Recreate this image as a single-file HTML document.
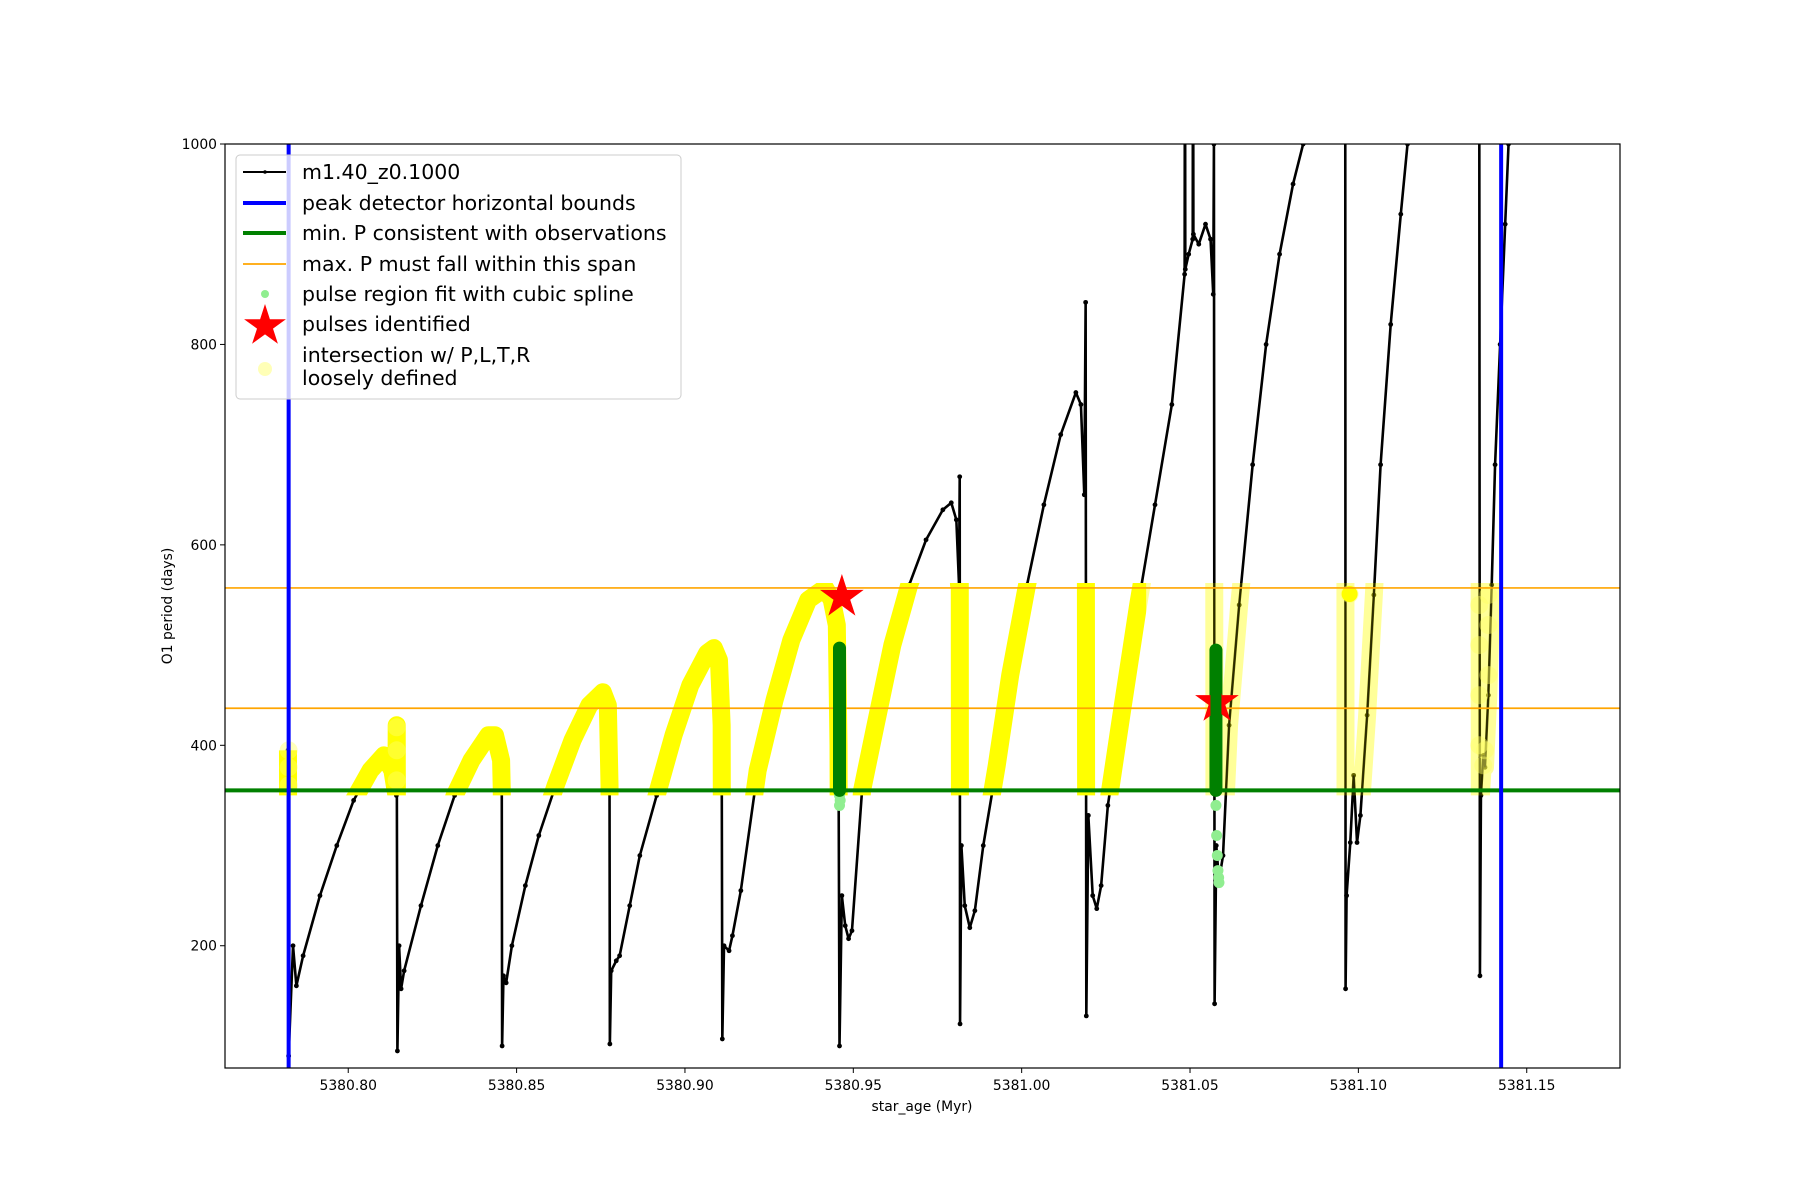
<!DOCTYPE html>
<html><head><meta charset="utf-8">
<style>
html,body{margin:0;padding:0;background:#fff;}
svg{display:block;font-family:"DejaVu Sans","Liberation Sans",sans-serif;}
</style></head>
<body>
<svg id="chart" width="1800" height="1200" viewBox="0 0 1800 1200" xmlns="http://www.w3.org/2000/svg">
<rect width="1800" height="1200" fill="#fff"/>
<defs>
<clipPath id="plotclip"><rect x="225" y="144" width="1395" height="924"/></clipPath>
<clipPath id="bandSolid"><rect id="bs" x="225" y="0" width="0" height="0"/></clipPath>
<clipPath id="bandPale"><rect id="bp" x="225" y="0" width="0" height="0"/></clipPath>
</defs>
<g id="plot" clip-path="url(#plotclip)"></g>
<g id="axes"></g>
<g id="legend"></g>
</svg>
<script>
// ---- data ----
const trackAge = [5380.7821,5380.7823,5380.7836,5380.7846,5380.7866,5380.7916,5380.7966,5380.8016,5380.8066,5380.8106,5380.8131,5380.8143,5380.8144,5380.8146,5380.8151,5380.8157,
5380.8166,5380.8216,5380.8266,5380.8316,5380.8366,5380.8416,5380.8436,5380.8454,5380.8456,5380.8457,5380.8461,5380.8469,
5380.8486,5380.8526,5380.8566,5380.8616,5380.8666,5380.8716,5380.8756,5380.8771,5380.8776,5380.8777,5380.8781,5380.8796,5380.8806,
5380.8836,5380.8866,5380.8916,5380.8966,5380.9016,5380.9066,5380.9086,5380.9101,5380.9109,5380.9111,5380.9116,5380.9131,5380.9141,
5380.9166,5380.9216,5380.9266,5380.9316,5380.9366,5380.9416,5380.9436,5380.9451,5380.9456,5380.9459,5380.9466,5380.9476,5380.9486,5380.9496,
5380.9526,5380.9566,5380.9616,5380.9666,5380.9716,5380.9766,5380.9791,5380.9806,5380.9814,5380.9816,5380.9817,5380.9821,5380.9831,5380.9846,5380.9861,
5380.9886,5380.9926,5380.9966,5381.0016,5381.0066,5381.0116,5381.0161,5381.0176,5381.0186,5381.0190,5381.0192,5381.0198,5381.0211,5381.0223,5381.0236,
5381.0256,5381.0296,5381.0346,5381.0396,5381.0446,5381.0484,5381.0485,5381.0486,5381.0496,5381.0508,5381.0509,5381.0510,5381.0526,5381.0546,5381.0561,5381.0569,5381.0571,5381.0573,5381.0578,5381.0586,5381.0598,
5381.0616,5381.0646,5381.0686,5381.0726,5381.0766,5381.0806,5381.0836,5381.0846,
5381.0961,5381.0962,5381.0965,5381.0976,5381.0986,5381.0996,5381.1006,5381.1026,5381.1046,5381.1066,5381.1096,5381.1126,5381.1146,5381.1156,
5381.1359,5381.1361,5381.1364,5381.1371,5381.1376,5381.1386,5381.1396,5381.1406,5381.1421,5381.1436,5381.1446,5381.1451];
const trackP = [395,90,200,160,190,250,300,345,375,390,375,350,420,95,200,157,
175,240,300,350,385,410,410,385,355,100,170,163,
200,260,310,360,405,440,453,440,360,102,175,185,190,
240,290,350,410,460,492,497,485,420,107,200,195,210,
255,375,445,505,545,557,545,520,400,100,250,220,207,215,
355,420,500,560,605,635,642,625,560,668,122,300,240,218,235,
300,380,470,560,640,710,752,740,650,842,130,330,250,237,260,
340,430,540,640,740,870,1200,875,890,905,1200,910,900,920,905,850,1000,142,300,265,290,
420,540,680,800,890,960,1000,1100,
1100,157,250,303,370,303,330,430,550,680,820,930,1000,1100,
1100,170,350,390,378,450,560,680,800,920,1000,1100];
const blueBounds = [5380.7823,5381.1424];
const minP = 355;
const maxPSpan = [437,557];
const fitAge = [5380.9459,5380.9459,5380.9461,5381.0577,5381.0579,5381.0581,5381.0583,5381.0585,5381.0586];
const fitP = [350,340,345,340,310,290,275,268,263];
const pulseAge = [5380.9459,5381.0577];
const pulseTop = [497,495];
const starAge = [5380.9466,5381.0580];
const starP = [548,443];
const looseAge = [5380.7823,5380.7823,5380.7823,5380.8144,5380.8144,5380.8144,5381.0974,5381.1359,5381.1359,5381.1359,5381.1359,5381.1371,5381.1376,5381.1386,5381.1386,5381.1386];
const looseP = [360,378,395,365,395,418,551,400,450,500,540,380,395,470,520,550];
const xTicks = [5380.80,5380.85,5380.90,5380.95,5381.00,5381.05,5381.10,5381.15];
const xTickLabels = ["5380.80","5380.85","5380.90","5380.95","5381.00","5381.05","5381.10","5381.15"];
const yTicks = [200,400,600,800,1000];
const yTickLabels = ["200","400","600","800","1000"];

// ---- axes functions ----
const X0=225,X1=1620,Y0=144,Y1=1068;
const xMin=5380.7634,xMax=5381.1777,yMin=78,yMax=1000;
const px=v=>X0+(v-xMin)/(xMax-xMin)*(X1-X0);
const py=v=>Y1-(v-yMin)/(yMax-yMin)*(Y1-Y0);
const NS="http://www.w3.org/2000/svg";
function mk(tag,attrs,parent){const e=document.createElementNS(NS,tag);for(const k in attrs)e.setAttribute(k,attrs[k]);parent.appendChild(e);return e;}
const plot=document.getElementById('plot'),axes=document.getElementById('axes');

const ptsStr=trackAge.map((a,i)=>px(a).toFixed(2)+','+py(trackP[i]).toFixed(2)).join(' ');
const bs=document.getElementById('bs'),bp=document.getElementById('bp');
const yb0=py(maxPSpan[1])-5,yb1=py(minP)+5;
const split=px(5381.037);
bs.setAttribute('y',yb0);bs.setAttribute('height',yb1-yb0);bs.setAttribute('width',split-225);
bp.setAttribute('x',split);bp.setAttribute('y',yb0);bp.setAttribute('height',yb1-yb0);bp.setAttribute('width',1620-split);

const track=mk('polyline',{points:ptsStr,fill:'none',stroke:'#000','stroke-width':2.6,'stroke-linejoin':'round'},plot);


const dots=mk('g',{},plot);


trackAge.forEach((a,i)=>{mk('circle',{cx:px(a),cy:py(trackP[i]),r:2.4,fill:'#000'},dots);});

const ys=mk('polyline',{points:ptsStr,fill:'none',stroke:'#ffff00','stroke-width':18,'stroke-linejoin':'round','clip-path':'url(#bandSolid)'},plot);


const yp=mk('polyline',{points:ptsStr,fill:'none',stroke:'#ffff00','stroke-opacity':0.4,'stroke-width':18,'stroke-linejoin':'round','clip-path':'url(#bandPale)'},plot);


const tb=mk('polyline',{points:ptsStr,fill:'none',stroke:'#000','stroke-opacity':0.6,'stroke-width':1.8,'clip-path':'url(#bandPale)'},plot);



looseAge.forEach((a,i)=>{const c=mk('circle',{cx:px(a),cy:py(looseP[i]),r:9,fill:'#ffff66','fill-opacity':0.45},plot);

});
mk('circle',{cx:px(looseAge[6]),cy:py(looseP[6]),r:8,fill:'#ffff00'},plot);

const gl=mk('line',{x1:X0,x2:X1,y1:py(minP),y2:py(minP),stroke:'#008000','stroke-width':4},plot);


maxPSpan.forEach(v=>{const l=mk('line',{x1:X0,x2:X1,y1:py(v),y2:py(v),stroke:'#ffa500','stroke-width':1.7},plot);

});
blueBounds.forEach(v=>{const l=mk('line',{x1:px(v),x2:px(v),y1:Y0,y2:Y1,stroke:'#0000ff','stroke-width':4},plot);

});

fitAge.forEach((a,i)=>{const c=mk('circle',{cx:px(a),cy:py(fitP[i]),r:5.5,fill:'#90ee90'},plot);

});
pulseAge.forEach((a,i)=>{const l=mk('line',{x1:px(a),x2:px(a),y1:py(minP),y2:py(pulseTop[i]),stroke:'#008000','stroke-width':13,'stroke-linecap':'round'},plot);

});

function starPts(cx,cy,R){const r=R*0.382;let s=[];for(let k=0;k<10;k++){const ang=-Math.PI/2+k*Math.PI/5;const rr=k%2?r:R;s.push((cx+rr*Math.cos(ang)).toFixed(1)+','+(cy+rr*Math.sin(ang)).toFixed(1));}return s.join(' ');}
starAge.forEach((a,i)=>{const s=mk('polygon',{points:starPts(px(a),py(starP[i]),23),fill:'#ff0000'},plot);

});
pulseAge.forEach((a,i)=>{mk('line',{x1:px(a),x2:px(a),y1:py(minP),y2:py(pulseTop[i]),stroke:'#008000','stroke-width':11,'stroke-linecap':'round'},plot);});

const fr=mk('rect',{x:X0,y:Y0,width:X1-X0,height:Y1-Y0,fill:'none',stroke:'#000','stroke-width':1.2},axes);


xTicks.forEach((t,i)=>{const x=px(t);mk('line',{x1:x,x2:x,y1:Y1,y2:Y1+5,stroke:'#000','stroke-width':1},axes);
const tx=mk('text',{x:x,y:Y1+22,'font-size':13.9,'text-anchor':'middle',fill:'#000'},axes);tx.textContent=xTickLabels[i];

});
yTicks.forEach((t,i)=>{const y=py(t);mk('line',{x1:X0-5,x2:X0,y1:y,y2:y,stroke:'#000','stroke-width':1},axes);
const tx=mk('text',{x:X0-8,y:y+5,'font-size':13.9,'text-anchor':'end',fill:'#000'},axes);tx.textContent=yTickLabels[i];

});
</script>
<script>
(function(){
const svg=document.getElementById('chart');
const NS="http://www.w3.org/2000/svg";
const xl=document.createElementNS(NS,'text');
xl.setAttribute('x',922);xl.setAttribute('y',1111);xl.setAttribute('font-size',13.9);xl.setAttribute('text-anchor','middle');
xl.textContent='star_age (Myr)';


svg.appendChild(xl);
const yl=document.createElementNS(NS,'text');
yl.setAttribute('transform','translate(172,606) rotate(-90)');yl.setAttribute('font-size',13.9);yl.setAttribute('text-anchor','middle');
yl.textContent='O1 period (days)';


svg.appendChild(yl);
const lg=document.getElementById('legend');
function m(tag,a){const e=document.createElementNS(NS,tag);for(const k in a)e.setAttribute(k,a[k]);lg.appendChild(e);return e;}
const box=m('rect',{x:236,y:155,width:445,height:244,rx:4,fill:'#fff','fill-opacity':0.8,stroke:'#cccccc','stroke-width':1});


const rows=[172,203,233,264,294,324];
const labels=['m1.40_z0.1000','peak detector horizontal bounds','min. P consistent with observations','max. P must fall within this span','pulse region fit with cubic spline','pulses identified'];
rows.forEach((y,i)=>{const t=m('text',{x:302,y:y+7,'font-size':20.5,fill:'#000'});t.textContent=labels[i];

});
m('line',{x1:243,x2:286,y1:172,y2:172,stroke:'#000','stroke-width':2});m('circle',{cx:265,cy:172,r:1.8,fill:'#000'});
m('line',{x1:243,x2:286,y1:203,y2:203,stroke:'#0000ff','stroke-width':4});
m('line',{x1:243,x2:286,y1:233,y2:233,stroke:'#008000','stroke-width':4});
m('line',{x1:243,x2:286,y1:264,y2:264,stroke:'#ffa500','stroke-width':1.7});
m('circle',{cx:265,cy:294,r:4,fill:'#90ee90'});
let s=[];for(let k=0;k<10;k++){const a=-Math.PI/2+k*Math.PI/5;const r=k%2?8.4:22;s.push((265+r*Math.cos(a)).toFixed(1)+','+(326+r*Math.sin(a)).toFixed(1));}
m('polygon',{points:s.join(' '),fill:'#ff0000'});
m('circle',{cx:265,cy:369,r:7,fill:'#ffff99','fill-opacity':0.7});
const t1=m('text',{x:302,y:362,'font-size':20.5,fill:'#000'});t1.textContent='intersection w/ P,L,T,R';


const t2=m('text',{x:302,y:385,'font-size':20.5,fill:'#000'});t2.textContent='loosely defined';


})();
</script>
</body></html>
